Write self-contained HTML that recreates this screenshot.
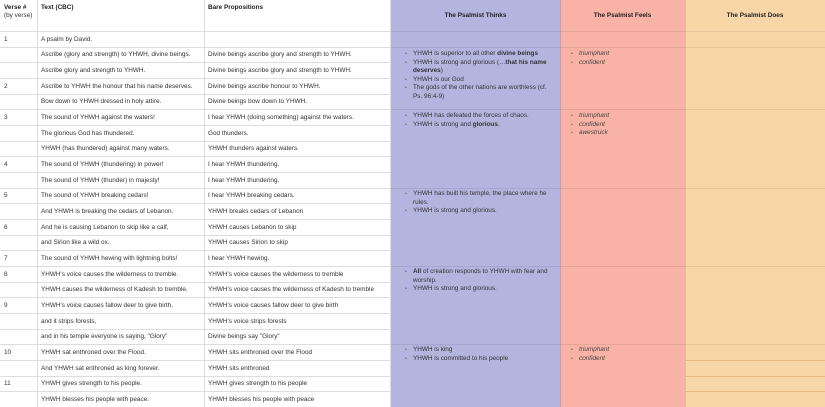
<!DOCTYPE html>
<html><head><style>
body{margin:0;width:825px;height:407px;overflow:hidden;background:#fff;font-family:"Liberation Sans",sans-serif;font-size:6.4px;color:#333;position:relative}
.a{position:absolute}
.h{font-weight:bold;color:#222}
.hl{position:absolute;height:1px;background:#ddd}
.vl{position:absolute;width:1px;background:#ddd;top:0;height:407px}
.c{position:absolute;white-space:nowrap}
ul{margin:0;padding:0 0 0 13px;list-style:none}
li{position:relative;line-height:8.6px}
li:before{content:"•";position:absolute;left:-8px;color:#666;font-size:5px}
i{color:#444}
</style></head><body>
<div class="a" style="left:391px;top:0;width:169px;height:407px;background:#b3b5df"></div>
<div class="a" style="left:560px;top:0;width:125px;height:407px;background:#f8b3a6"></div>
<div class="a" style="left:685px;top:0;width:140px;height:407px;background:#f8d6a8"></div>
<div class="vl" style="left:37px"></div><div class="vl" style="left:204px"></div><div class="vl" style="left:390px"></div>
<div class="vl" style="left:560px;background:#c9a0a0"></div><div class="vl" style="left:685px;background:#e8c090"></div>
<div class="c h" style="left:4px;top:4px">Verse #</div>
<div class="c" style="left:4px;top:12px">(by verse)</div>
<div class="c h" style="left:41px;top:4px">Text (CBC)</div>
<div class="c h" style="left:208px;top:4px">Bare Propositions</div>
<div class="c h" style="left:391px;width:169px;text-align:center;top:12px">The Psalmist Thinks</div>
<div class="c h" style="left:560px;width:125px;text-align:center;top:12px">The Psalmist Feels</div>
<div class="c h" style="left:685px;width:140px;text-align:center;top:12px">The Psalmist Does</div>
<div id="rows"></div>
<div class="a" style="left:400px;top:50px;width:155px"><ul>
<li>YHWH is superior to all other <b>divine beings</b></li>
<li>YHWH is strong and glorious (…<b>that his name deserves</b>)</li>
<li>YHWH is our God</li>
<li>The gods of the other nations are worthless (cf. Ps. 96:4-9)</li></ul></div>
<div class="a" style="left:400px;top:112px;width:155px"><ul>
<li>YHWH has defeated the forces of chaos.</li>
<li>YHWH is strong and <b>glorious</b>.</li></ul></div>
<div class="a" style="left:400px;top:190px;width:150px"><ul>
<li>YHWH has built his temple, the place where he rules.</li>
<li>YHWH is strong and glorious.</li></ul></div>
<div class="a" style="left:400px;top:268px;width:150px"><ul>
<li><b>All</b> of creation responds to YHWH with fear and worship.</li>
<li>YHWH is strong and glorious.</li></ul></div>
<div class="a" style="left:400px;top:346px;width:150px"><ul>
<li>YHWH is king</li><li>YHWH is committed to his people</li></ul></div>
<div class="a" style="left:566px;top:50px"><ul><li><i>triumphant</i></li><li><i>confident</i></li></ul></div>
<div class="a" style="left:566px;top:112px"><ul><li><i>triumphant</i></li><li><i>confident</i></li><li><i>awestruck</i></li></ul></div>
<div class="a" style="left:566px;top:346px"><ul><li><i>triumphant</i></li><li><i>confident</i></li></ul></div>
<script>
var d=[["1","A psalm by David.",""],["","Ascribe (glory and strength) to YHWH, divine beings.","Divine beings ascribe glory and strength to YHWH."],["","Ascribe glory and strength to YHWH.","Divine beings ascribe glory and strength to YHWH."],["2","Ascribe to YHWH the honour that his name deserves.","Divine beings ascribe honour to YHWH."],["","Bow down to YHWH dressed in holy attire.","Divine beings bow down to YHWH."],["3","The sound of YHWH against the waters!","I hear YHWH (doing something) against the waters."],["","The glorious God has thundered.","God thunders."],["","YHWH (has thundered) against many waters.","YHWH thunders against  waters."],["4","The sound of YHWH (thundering) in power!","I hear YHWH thundering."],["","The sound of YHWH (thunder) in majesty!","I hear YHWH thundering."],["5","The sound of YHWH breaking cedars!","I hear YHWH breaking cedars."],["","And YHWH is breaking the cedars of Lebanon.","YHWH breaks cedars of Lebanon"],["6","And he is causing Lebanon to skip like a calf,","YHWH causes Lebanon to skip"],["","and Sirion like a wild ox.","YHWH causes Sirion to skip"],["7","The sound of YHWH hewing with lightning bolts!","I hear YHWH hewing."],["8","YHWH's voice causes the wilderness to tremble.","YHWH's voice causes the wilderness to tremble"],["","YHWH causes the wilderness of Kadesh to tremble.","YHWH's voice causes the wilderness of Kadesh to tremble"],["9","YHWH's voice causes fallow deer to give birth,","YHWH's voice causes fallow deer to give birth"],["","and it strips forests,","YHWH's voice strips forests"],["","and in his temple everyone is saying, \"Glory\"","Divine beings say \"Glory\""],["10","YHWH sat enthroned over the Flood.","YHWH sits enthroned over the Flood"],["","And YHWH sat enthroned as king forever.","YHWH sits enthroned"],["11","YHWH gives strength to his people.","YHWH gives strength to his people"],["","YHWH blesses his people with peace.","YHWH blesses his people with peace"]];
var h='',H=15.67;
function ln(x,w,y,c){h+='<div class="hl" style="left:'+x+'px;width:'+w+'px;top:'+y.toFixed(1)+'px;background:'+c+'"></div>';}
for(var i=0;i<d.length;i++){var t=31+i*H;
ln(0,391,t,'#ddd');
h+='<div class="c" style="left:4px;top:'+(t+4.5)+'px">'+d[i][0]+'</div><div class="c" style="left:41px;top:'+(t+4.5)+'px">'+d[i][1]+'</div><div class="c" style="left:208px;top:'+(t+4.5)+'px">'+d[i][2]+'</div>';}
ln(391,434,31,'rgba(0,0,0,0.07)');
[1,5,10,15,20].forEach(function(k){ln(391,434,31+k*H,'rgba(0,0,0,0.08)');});
[21,22,23].forEach(function(k){ln(685,140,31+k*H,'rgba(200,140,60,0.35)');});
document.getElementById('rows').innerHTML=h;
</script>
</body></html>
